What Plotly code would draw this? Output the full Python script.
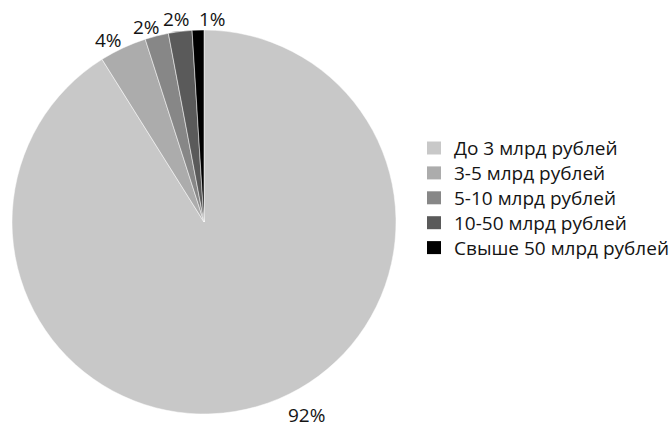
import math
import plotly.graph_objects as go

# Распределение по размеру (доля, %)
categories = ["До 3 млрд рублей", "3-5 млрд рублей", "5-10 млрд рублей",
              "10-50 млрд рублей", "Свыше 50 млрд рублей"]
shares = [92, 4, 2, 2, 1]
colors = ["#c8c8c8", "#acacac", "#878787", "#5a5a5a", "#000000"]

W, H = 670, 427
FONT = "Open Sans, Noto Sans, sans-serif"
TEXT_COLOR = "#141414"

# pie placement (paper fractions)
dom_x = [12 / W, 396 / W]
dom_y = [1 - 414 / H, 1 - 30 / H]

# label placement tweaks: angular nudge (deg) and gap beyond the rim (px)
label_nudge = [-12.0, -2.75, -2.3, -0.5, 4.1]
label_gap = [27, 13, 11, 13, 11]

fig = go.Figure(go.Pie(
    labels=categories,
    values=shares,
    textinfo="none",
    marker=dict(colors=colors, line=dict(color="#ffffff", width=0.5)),
    sort=False,
    direction="clockwise",
    rotation=0,
    hoverinfo="label+value",
    showlegend=False,
    domain=dict(x=dom_x, y=dom_y),
))

# pie geometry in pixels, derived from the domain
cx = (dom_x[0] + dom_x[1]) / 2 * W
cy = (1 - (dom_y[0] + dom_y[1]) / 2) * H
r = min((dom_x[1] - dom_x[0]) * W, (dom_y[1] - dom_y[0]) * H) / 2

# percentage labels outside each slice, at the slice's mid-angle
total = sum(shares)
before = 0
for v, nudge, gap in zip(shares, label_nudge, label_gap):
    theta = math.radians((before + v / 2) / total * 360 + nudge)
    before += v
    d = r + gap
    px = cx + d * math.sin(theta)
    py = cy - d * math.cos(theta)
    fig.add_annotation(
        x=px / W, y=1 - py / H, xref="paper", yref="paper",
        text=f"{v}%", showarrow=False, xanchor="center", yanchor="middle",
        font=dict(family=FONT, size=19, color=TEXT_COLOR),
    )

# legend: colour squares with category names
leg_x, leg_y0, leg_step = 427, 148, 24.9
sq_w, sq_h = 14, 13
for i, (name, col) in enumerate(zip(categories, colors)):
    yc = leg_y0 + i * leg_step
    fig.add_shape(
        type="rect", xref="paper", yref="paper",
        x0=leg_x / W, x1=(leg_x + sq_w) / W,
        y0=1 - (yc + sq_h / 2) / H, y1=1 - (yc - sq_h / 2) / H,
        fillcolor=col, line=dict(width=0),
    )
    fig.add_annotation(
        x=(leg_x + sq_w + 11) / W, y=1 - yc / H, xref="paper", yref="paper",
        text=name, showarrow=False, xanchor="left", yanchor="middle",
        font=dict(family=FONT, size=19, color=TEXT_COLOR),
    )

fig.update_layout(
    width=W, height=H,
    margin=dict(l=0, r=0, t=0, b=0),
    paper_bgcolor="#ffffff",
    font=dict(family=FONT, color=TEXT_COLOR),
    showlegend=False,
)

fig.write_html("out.html")
